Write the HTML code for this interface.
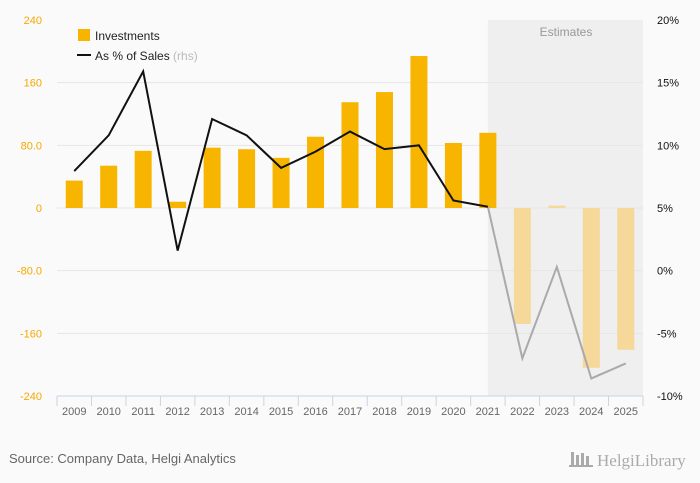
<!DOCTYPE html>
<html><head><meta charset="utf-8"><style>
body{margin:0;background:#fafafa;font-family:"Liberation Sans",sans-serif}
svg{display:block}
</style></head><body>
<svg id="c" width="700" height="483" font-family="Liberation Sans, sans-serif">
<rect x="0" y="0" width="700" height="483" fill="#fafafa"/>
<g id="g"></g>
<text x="9" y="463" font-size="13" fill="#666">Source: Company Data, Helgi Analytics</text>
<text x="597" y="466" font-size="17" fill="#aaa" font-family="Liberation Serif, serif">HelgiLibrary</text>
<g fill="#aaa"><rect x="571" y="452" width="3" height="13"/><rect x="576" y="455" width="3" height="10"/><rect x="581" y="453" width="3" height="12"/><rect x="586" y="456" width="3" height="9"/><rect x="569" y="465" width="24" height="2"/></g>
</svg>
<script>
const years=["2009","2010","2011","2012","2013","2014","2015","2016","2017","2018","2019","2020","2021","2022","2023","2024","2025"];
const investments=[35,54,73,8,77,75,64,91,135,148,194,83,96,-148,3,-204,-181];
const pctSales=[7.95,10.8,15.9,1.6,12.1,10.8,8.2,9.5,11.1,9.7,10.0,5.6,5.1,-7.0,0.3,-8.6,-7.4];
const leftTicks=[240,160,80,0,-80,-160,-240];
const leftLabels=["240","160","80.0","0","-80.0","-160","-240"];
const rightTicks=[20,15,10,5,0,-5,-10];
const firstEstimate=13;

const NS="http://www.w3.org/2000/svg";
const g=document.getElementById('g');
const X0=57,X1=643,Y0=20,Y1=396;
const step=(X1-X0)/years.length;
const xc=i=>X0+step*(i+0.5);
const yL=v=>Y0+(240-v)/480*(Y1-Y0);
const yR=v=>Y0+(20-v)/30*(Y1-Y0);
function mk(t,a,txt){const e=document.createElementNS(NS,t);for(const k in a)e.setAttribute(k,a[k]);if(txt!==undefined)e.textContent=txt;g.appendChild(e);return e;}

const sx=xc(firstEstimate-1);
let e=mk('rect',{x:sx,y:Y0,width:X1-sx,height:Y1-Y0,fill:'#efefef'});


e=mk('text',{x:566,y:36,'font-size':12,fill:'#999','text-anchor':'middle'},'Estimates');



leftTicks.forEach((v,i)=>{
  const y=yL(v);
  if(i>0&&i<leftTicks.length-1){e=mk('line',{x1:X0,x2:X1,y1:y,y2:y,stroke:'#e6e6e6','stroke-width':1});
  
  }
  e=mk('text',{x:42,y:y+4,'font-size':11,fill:'#f5a800','text-anchor':'end'},leftLabels[i]);
  
  
});
rightTicks.forEach(v=>{
  e=mk('text',{x:657,y:yR(v)+4,'font-size':11,fill:'#111'},v+'%');
  
  
});

investments.forEach((v,i)=>{
  const y=Math.min(yL(v),yL(0)),h=Math.abs(yL(v)-yL(0));
  e=mk('rect',{x:xc(i)-8.5,y:y,width:17,height:h,fill:i>=firstEstimate?'#f5d89a':'#f7b500'});
  
  
});

let p1=[],p2=[];
pctSales.forEach((v,i)=>{const pt=xc(i)+','+yR(v);if(i<=firstEstimate-1)p1.push(pt);if(i>=firstEstimate-1)p2.push(pt);});
e=mk('polyline',{points:p2.join(' '),fill:'none',stroke:'#aaa','stroke-width':2});


e=mk('polyline',{points:p1.join(' '),fill:'none',stroke:'#111','stroke-width':2});



e=mk('line',{x1:X0,x2:X1,y1:Y1,y2:Y1,stroke:'#c8d4e8','stroke-width':1});


for(let i=0;i<=years.length;i++){
  e=mk('line',{x1:X0+step*i,x2:X0+step*i,y1:Y1,y2:Y1+10,stroke:'#c8d4e8','stroke-width':1});
  
  
}
years.forEach((y,i)=>{
  e=mk('text',{x:xc(i),y:Y1+19,'font-size':11,fill:'#666','text-anchor':'middle'},y);
  
  
});

e=mk('rect',{x:78,y:29,width:12,height:12,fill:'#f7b500'});


e=mk('text',{x:95,y:40,'font-size':12,fill:'#222'},'Investments');


e=mk('line',{x1:77,x2:91,y1:55,y2:55,stroke:'#111','stroke-width':2});


e=mk('text',{x:95,y:60,'font-size':12,fill:'#222'},'As % of Sales ');


const ts=document.createElementNS(NS,'tspan');ts.setAttribute('fill','#bbb');ts.textContent='(rhs)';e.appendChild(ts);
</script>
</body></html>
